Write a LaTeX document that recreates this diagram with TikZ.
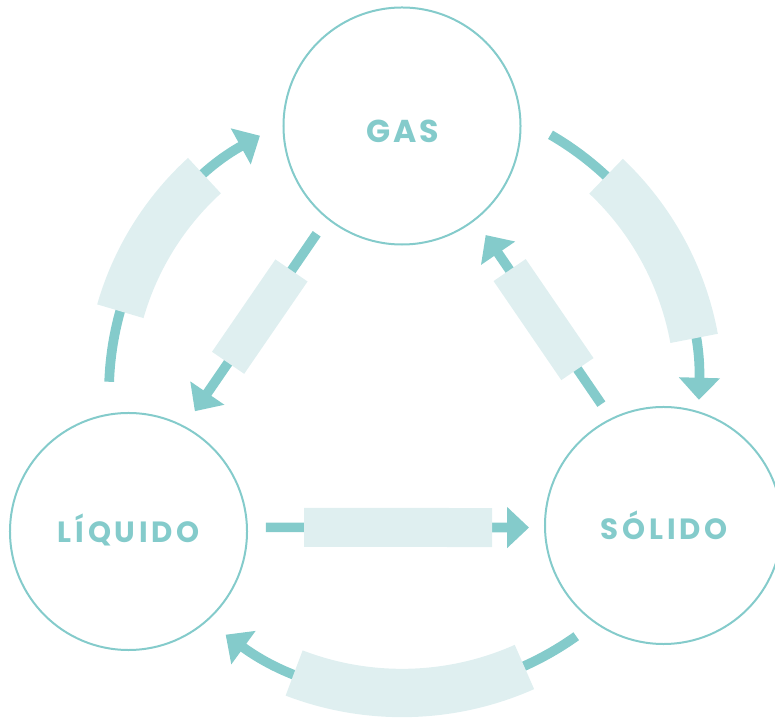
\documentclass[tikz,border=0pt]{standalone}
\usepackage{fontspec}
\newfontfamily\phasefont{Poppins}[LetterSpace=13]
\newfontfamily\gasfont{Poppins}[LetterSpace=8]
\usetikzlibrary{arrows.meta, calc}
\definecolor{phaseteal}{RGB}{132,203,203}
\definecolor{tagpale}{RGB}{223,239,240}

\tikzset{
  phase/.style={circle, draw=phaseteal, line width=0.06cm, minimum size=7.11cm, inner sep=0pt, outer sep=0pt},
  phasetxt/.style={text=phaseteal, font=\phasefont\bfseries\fontsize{25}{25}\selectfont, inner sep=0pt, anchor=base},
  flow/.style={draw=phaseteal, line width=0.29cm, -{Triangle[length=0.66cm, width=1.2cm]}},
  tag/.style={fill=tagpale, minimum height=1.17cm, inner sep=0pt, sloped},
  tagarc/.style={draw=tagpale, line width=1.45cm}
}

\begin{document}
\begin{tikzpicture}[x=0.03cm, y=0.03cm]
    \useasboundingbox (0,0) rectangle (775,720);

    % the three phases
    \node[phase] (gas) at (402,594) {};
    \node[phase] (liquido) at (128.5,188.5) {};
    \node[phase] (solido) at (663.5,194.5) {};
    \coordinate (c) at (402,328);

    \node[phasetxt, font=\gasfont\bfseries\fontsize{27}{27}\selectfont] (gastxt) at (402.6,577.5) {GAS};
    \node[phasetxt] (liquidotxt) at (128.9,177) {LÍQUIDO};
    \node[phasetxt] (solidotxt) at (664.4,180) {SÓLIDO};

    % outer arcs
    \draw[flow] ($(c)+(178:293)$) arc (178:119:293);
    \draw[flow] ($(c)+(60:297)$) arc (60:-1.5:297);
    \draw[flow] ($(c)+(-54.5:300)$) arc (-54.5:-126:300);

    \draw[tagarc] ($(c)+(132.4:293)$) arc (132.4:164:293);
    \draw[tagarc] ($(c)+(10.4:297)$) arc (10.4:46.6:297);
    \draw[tagarc] ($(c)+(-111:301)$) arc (-111:-66:301);

    % inner arrows
    \draw[flow, shorten <=0.57cm, shorten >=0.57cm] (gas.231) -- node[tag, pos=0.472, minimum width=3.36cm] (tagone) {} (liquido.62);
    \draw[flow, shorten <=0.54cm, shorten >=0.57cm] (solido.116) -- node[tag, pos=0.498, minimum width=3.6cm] (tagtwo) {} (gas.-52);
    \draw[flow, shorten <=0.57cm, shorten >=0.48cm] (liquido.2) -- node[tag, pos=0.507, minimum width=5.64cm] (tagthree) {} (solido.181);
\end{tikzpicture}
\end{document}
